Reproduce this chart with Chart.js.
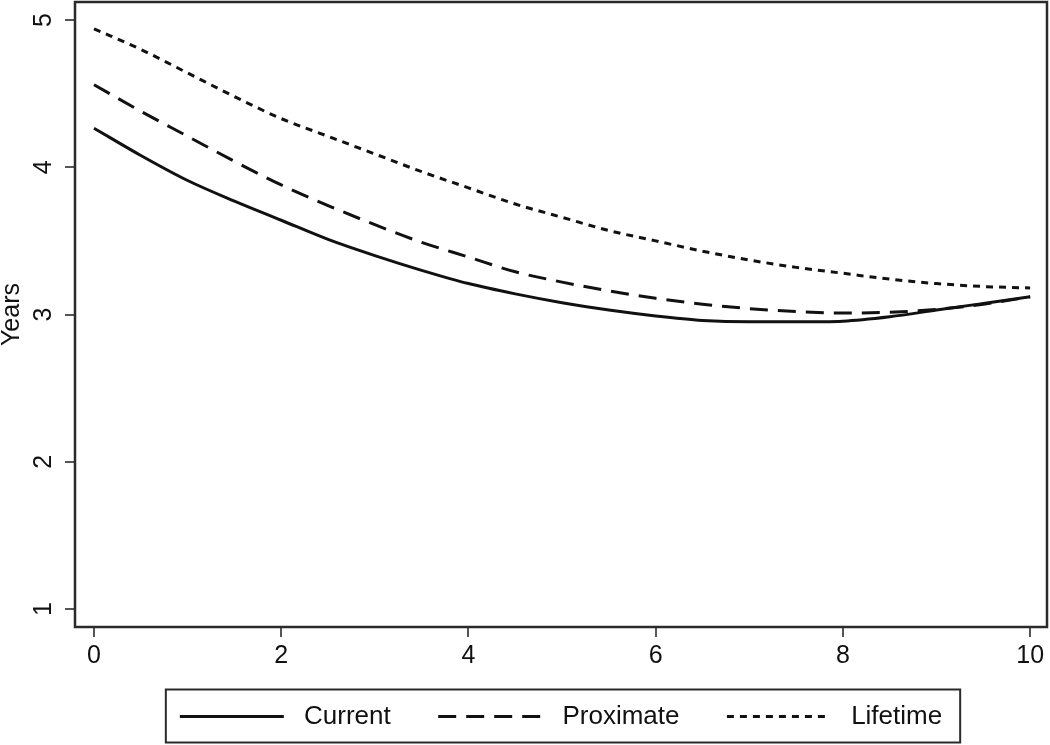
<!DOCTYPE html>
<html>
<head>
<meta charset="utf-8">
<script src="https://cdn.jsdelivr.net/npm/chart.js@4/dist/chart.umd.min.js"></script>
<style>
  html, body { margin: 0; padding: 0; background: #fff; }
  #wrap { width: 1050px; height: 745px; position: relative; }
</style>
</head>
<body>
<div id="wrap"><canvas id="grafico"></canvas></div>
<script>
// DATOS
const xValues = [0, 0.5, 1, 1.5, 2, 2.5, 3, 3.5, 4, 4.5, 5, 5.5, 6, 6.5, 7, 7.5, 8, 8.5, 9, 9.5, 10];
const current = [4.265, 4.08, 3.91, 3.77, 3.64, 3.51, 3.40, 3.30, 3.21, 3.14, 3.08, 3.03, 2.99, 2.96, 2.95, 2.95, 2.955, 2.985, 3.03, 3.075, 3.12];
const proximate = [4.56, 4.38, 4.21, 4.04, 3.88, 3.74, 3.61, 3.49, 3.39, 3.29, 3.22, 3.16, 3.11, 3.07, 3.04, 3.02, 3.01, 3.015, 3.035, 3.07, 3.12];
const lifetime = [4.94, 4.80, 4.64, 4.48, 4.33, 4.21, 4.09, 3.97, 3.86, 3.75, 3.66, 3.57, 3.50, 3.43, 3.37, 3.32, 3.28, 3.24, 3.21, 3.19, 3.18];
const xTicks = [0, 2, 4, 6, 8, 10];
const yTicks = [1, 2, 3, 4, 5];
const seriesNames = ["Current", "Proximate", "Lifetime"];
// DATOS END

const fuente = "'Liberation Sans', Arial, Helvetica, sans-serif";

function puntos(valores) {
  return xValues.map((x, i) => ({ x: x, y: valores[i] }));
}

function serie(nombre, valores, dash) {
  return {
    label: nombre,
    data: puntos(valores),
    borderColor: "#111",
    backgroundColor: "#111",
    borderWidth: 3,
    borderDash: dash,
    pointRadius: 0,
    fill: false,
    cubicInterpolationMode: "monotone",
  };
}

// marco del grafico y caja de la leyenda
const marco = {
  id: "marco",
  afterDatasetsDraw(chart) {
    const a = chart.chartArea;
    const ctx = chart.ctx;
    ctx.save();
    ctx.strokeStyle = "#2a2a2a";
    ctx.lineWidth = 2.5;
    ctx.strokeRect(a.left, a.top, a.right - a.left, a.bottom - a.top);
    ctx.restore();
  },
  afterDraw(chart) {
    const cajas = chart.legend.legendHitBoxes;
    if (!cajas || !cajas.length) return;
    const primera = cajas[0];
    const ultima = cajas[cajas.length - 1];
    const izq = primera.left - 14;
    const der = ultima.left + ultima.width + 18;
    const arriba = primera.top - 14;
    const abajo = primera.top + primera.height + 13;
    const ctx = chart.ctx;
    ctx.save();
    ctx.strokeStyle = "#2a2a2a";
    ctx.lineWidth = 2;
    ctx.strokeRect(izq, arriba, der - izq, abajo - arriba);
    ctx.restore();
  },
};

function graficoLineas() {
  const data = {
    datasets: [
      serie(seriesNames[0], current, []),
      serie(seriesNames[1], proximate, [18, 10]),
      serie(seriesNames[2], lifetime, [7, 6]),
    ],
  };
  const config = {
    type: "line",
    data: data,
    plugins: [marco],
    options: {
      responsive: true,
      maintainAspectRatio: false,
      animation: false,
      layout: { padding: { top: 2, right: 3, left: 0, bottom: 5.5 } },
      scales: {
        x: {
          type: "linear",
          min: -0.203,
          max: 10.18,
          afterBuildTicks: (scale) => { scale.ticks = xTicks.map((v) => ({ value: v })); },
          afterFit: (scale) => {
            scale.height = 43.5;
            scale.paddingLeft = 0;
            scale.paddingRight = 0;
          },
          border: { display: false },
          grid: { drawOnChartArea: false, drawTicks: true, tickLength: 10, color: "#555", lineWidth: 2 },
          ticks: { color: "#111", font: { family: fuente, size: 25 }, padding: 4, maxRotation: 0, autoSkip: false },
        },
        y: {
          type: "linear",
          min: 0.878,
          max: 5.122,
          afterBuildTicks: (scale) => { scale.ticks = yTicks.map((v) => ({ value: v })); },
          afterFit: (scale) => {
            scale.width = 75;
            scale.paddingTop = 0;
            scale.paddingBottom = 0;
          },
          border: { display: false },
          grid: { drawOnChartArea: false, drawTicks: true, tickLength: 10, color: "#555", lineWidth: 2 },
          ticks: {
            color: "#111",
            font: { family: fuente, size: 25 },
            minRotation: 90,
            maxRotation: 90,
            crossAlign: "center",
            padding: 14,
            autoSkip: false,
          },
          title: {
            display: true,
            text: "Years",
            color: "#111",
            font: { family: fuente, size: 25, lineHeight: 1 },
            padding: 0,
          },
        },
      },
      plugins: {
        tooltip: { enabled: false },
        legend: {
          position: "bottom",
          fullSize: false,
          labels: {
            usePointStyle: true,
            pointStyle: "line",
            pointStyleWidth: 104,
            padding: 33,
            color: "#111",
            font: { family: fuente, size: 26 },
            generateLabels: function (chart) {
              const items = Chart.defaults.plugins.legend.labels.generateLabels(chart);
              items.forEach((item, i) => {
                const ds = chart.data.datasets[item.datasetIndex];
                item.lineDash = ds.borderDash;
                item.lineWidth = ds.borderWidth;
                item.strokeStyle = ds.borderColor;
                item.text = " " + item.text + (i < items.length - 1 ? "  " : "");
              });
              return items;
            },
          },
        },
      },
    },
  };
  new Chart(document.getElementById("grafico"), config);
}

graficoLineas();
</script>
</body>
</html>
